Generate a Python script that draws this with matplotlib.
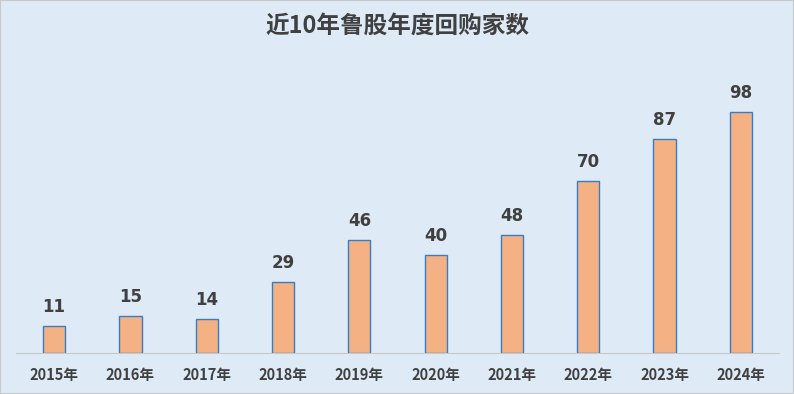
import matplotlib
matplotlib.use('Agg')
from matplotlib import pyplot as plt

plt.rcParams['font.family'] = ['Noto Sans CJK SC', 'DejaVu Sans']

years = ['2015年', '2016年', '2017年', '2018年', '2019年', '2020年', '2021年', '2022年', '2023年', '2024年']
counts = [11, 15, 14, 29, 46, 40, 48, 70, 87, 98]
title = '近10年鲁股年度回购家数'

bg = '#DEEAF6'
fig = plt.figure(figsize=(7.94, 3.94), dpi=100, facecolor=bg)
ax = fig.add_axes([16/794, 41/394, 763/794, 273/394])
ax.set_facecolor(bg)

x = range(len(years))
bars = ax.bar(x, counts, width=0.29, color='#F4B183', edgecolor='#3A7CC4', linewidth=1.0)
for xi, v in zip(x, counts):
    ax.text(xi, v + 4.0, str(v), ha='center', va='bottom', fontsize=12,
            fontweight='bold', color='#404040', family=['DejaVu Sans'])

ax.set_xlim(-0.5, len(years) - 0.5)
ax.set_ylim(0, 111)
ax.set_xticks(list(x))
ax.set_xticklabels(years, fontsize=10.5, fontweight='bold', color='#404040')
ax.tick_params(axis='x', length=0, pad=10)
ax.set_yticks([])
for s in ['top', 'right', 'left']:
    ax.spines[s].set_visible(False)
ax.spines['bottom'].set_color('#C8C8C8')

fig.text(0.5, 0.935, title, ha='center', va='center', fontsize=17,
         fontweight='bold', color='#404040')

# outer border
fig.patches.append(plt.Rectangle((0, 0), 1, 1, transform=fig.transFigure,
                                 fill=False, edgecolor='#C8C8C8', linewidth=1.5))

fig.savefig('out.png', dpi=100, facecolor=bg)
